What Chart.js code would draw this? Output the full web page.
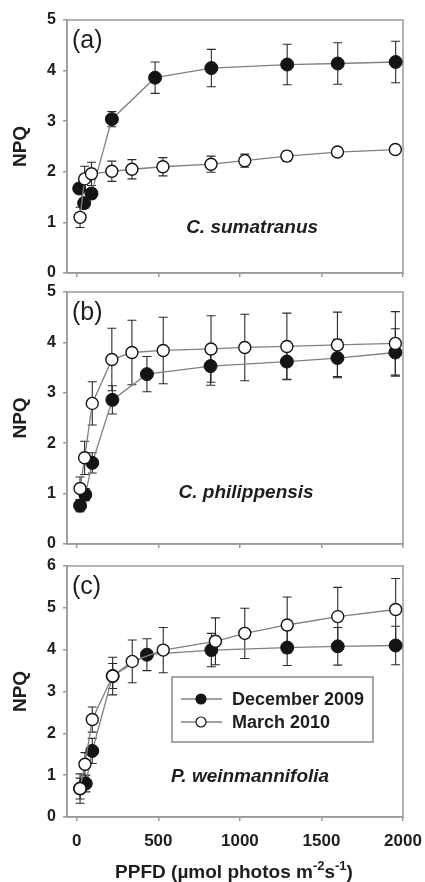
<!DOCTYPE html>
<html><head><meta charset="utf-8">
<script src="https://cdn.jsdelivr.net/npm/chart.js@4.4.1/dist/chart.umd.min.js"></script>
<style>
html,body{margin:0;padding:0;background:#fff;width:425px;height:882px;overflow:hidden}
canvas{position:absolute;left:0;top:0}
</style></head><body>
<canvas id="ca" width="425" height="882"></canvas>
<canvas id="cb" width="425" height="882"></canvas>
<canvas id="cc" width="425" height="882"></canvas>
<script>
// ---- data ----
const seriesLabels = ['December 2009', 'March 2010'];
const xTicks = [0, 500, 1000, 1500, 2000];
const yTicksA = [0, 1, 2, 3, 4, 5];
const yTicksB = [0, 1, 2, 3, 4, 5];
const yTicksC = [0, 1, 2, 3, 4, 5, 6];
const panelTags = ['(a)', '(b)', '(c)'];
const speciesNames = ['C. sumatranus', 'C. philippensis', 'P. weinmannifolia'];

const decXa = [15, 45, 90, 215, 480, 825, 1290, 1600, 1955];
const decYa = [1.67, 1.38, 1.57, 3.04, 3.86, 4.05, 4.12, 4.14, 4.17];
const decEa = [0.1, 0.1, 0.1, 0.15, 0.31, 0.37, 0.40, 0.41, 0.41];
const marXa = [20, 48, 90, 215, 338, 528, 823, 1030, 1288, 1598, 1953];
const marYa = [1.1, 1.86, 1.96, 2.01, 2.05, 2.1, 2.15, 2.22, 2.31, 2.39, 2.44];
const marEa = [0.2, 0.25, 0.23, 0.2, 0.19, 0.18, 0.16, 0.13, 0.1, 0.05, 0.03];

const decXb = [20, 52, 95, 218, 430, 820, 1288, 1598, 1953];
const decYb = [0.76, 0.98, 1.61, 2.86, 3.37, 3.53, 3.62, 3.69, 3.80];
const decEb = [0.12, 0.12, 0.2, 0.28, 0.35, 0.38, 0.35, 0.37, 0.47];
const marXb = [20, 48, 95, 215, 338, 530, 823, 1030, 1288, 1598, 1953];
const marYb = [1.1, 1.71, 2.79, 3.66, 3.80, 3.84, 3.87, 3.90, 3.92, 3.95, 3.98];
const marEb = [0.23, 0.33, 0.43, 0.62, 0.64, 0.66, 0.66, 0.66, 0.66, 0.65, 0.63];

const decXc = [20, 55, 95, 220, 430, 825, 1290, 1600, 1955];
const decYc = [0.68, 0.8, 1.58, 3.37, 3.88, 3.99, 4.05, 4.08, 4.1];
const decEc = [0.25, 0.2, 0.3, 0.3, 0.38, 0.4, 0.43, 0.45, 0.46];
const marXc = [20, 50, 95, 220, 340, 530, 850, 1030, 1290, 1600, 1955];
const marYc = [0.68, 1.26, 2.33, 3.37, 3.72, 3.99, 4.2, 4.39, 4.59, 4.79, 4.96];
const marEc = [0.35, 0.28, 0.3, 0.45, 0.51, 0.54, 0.56, 0.6, 0.67, 0.7, 0.74];

// ---- styles ----
const FONT = '"Liberation Sans", Arial, sans-serif';
const axisGrey = '#9a9a9a';
const lineGrey = '#808080';
const textColor = '#1e1e1e';
const markColor = '#141414';

const toXY = (xs, ys) => xs.map((x, i) => ({x: x, y: ys[i]}));

const errPlugin = {
  id: 'errbars',
  beforeDatasetsDraw(chart) {
    const ctx = chart.ctx, ys = chart.scales.y;
    chart.data.datasets.forEach((ds, i) => {
      const meta = chart.getDatasetMeta(i);
      meta.data.forEach((pt, j) => {
        const v = ds.data[j].y, e = ds.err[j];
        const x = pt.x, y1 = ys.getPixelForValue(v + e), y2 = ys.getPixelForValue(v - e);
        ctx.save();
        ctx.strokeStyle = '#2a2a2a'; ctx.lineWidth = 1.1;
        ctx.beginPath();
        ctx.moveTo(x, y1); ctx.lineTo(x, y2);
        ctx.moveTo(x - 4.5, y1); ctx.lineTo(x + 4.5, y1);
        ctx.moveTo(x - 4.5, y2); ctx.lineTo(x + 4.5, y2);
        ctx.stroke();
        ctx.restore();
      });
    });
  }
};

const framePlugin = {
  id: 'frame',
  beforeDatasetsDraw(chart) {
    const {ctx, chartArea: a} = chart;
    ctx.save();
    ctx.strokeStyle = axisGrey; ctx.lineWidth = 1.5;
    ctx.strokeRect(a.left, a.top, a.right - a.left, a.bottom - a.top);
    ctx.restore();
  }
};

const textPlugin = {
  id: 'texts',
  afterDraw(chart, args, o) {
    const {ctx, chartArea: a} = chart;
    ctx.save();
    ctx.fillStyle = textColor;
    ctx.textBaseline = 'middle';
    ctx.textAlign = 'left';
    ctx.font = '25px ' + FONT;
    ctx.fillText(o.tag, a.left + 5, a.top + 21);
    ctx.textAlign = 'center';
    ctx.font = 'italic bold 19px ' + FONT;
    ctx.fillText(o.species, a.left + o.sx * (a.right - a.left), a.top + o.sy * (a.bottom - a.top));
    if (o.legend) {
      const bx = 172, by = 677, bw = 201, bh = 65;
      ctx.strokeStyle = '#8a8a8a'; ctx.lineWidth = 1.5;
      ctx.fillStyle = '#fff';
      ctx.fillRect(bx, by, bw, bh);
      ctx.strokeRect(bx, by, bw, bh);
      const rows = [699, 722];
      chart.data.datasets.forEach((ds, i) => {
        const y = rows[i];
        ctx.strokeStyle = '#444'; ctx.lineWidth = 1.2;
        ctx.beginPath(); ctx.moveTo(181, y); ctx.lineTo(222, y); ctx.stroke();
        ctx.beginPath(); ctx.arc(201, y, 5, 0, Math.PI * 2);
        ctx.fillStyle = ds.pointBackgroundColor; ctx.fill();
        ctx.strokeStyle = markColor; ctx.lineWidth = 1.2; ctx.stroke();
        ctx.fillStyle = textColor; ctx.textAlign = 'left';
        ctx.font = 'bold 18px ' + FONT;
        ctx.fillText(ds.label, 232, y + 1);
      });
    }
    if (o.xtitle) {
      const parts = [['PPFD (\u00b5mol photos m', 0], ['-2', 1], ['s', 0], ['-1', 1], [')', 0]];
      const big = 'bold 19px ' + FONT, small = 'bold 13px ' + FONT;
      let w = 0;
      parts.forEach(p => { ctx.font = p[1] ? small : big; w += ctx.measureText(p[0]).width; });
      let x = 234 - w / 2;
      const y = 873;
      ctx.textAlign = 'left';
      ctx.fillStyle = textColor;
      parts.forEach(p => {
        ctx.font = p[1] ? small : big;
        ctx.fillText(p[0], x, p[1] ? y - 7 : y);
        x += ctx.measureText(p[0]).width;
      });
    }
    ctx.restore();
  }
};

function makePanel(id, p) {
  const XH = p.showX ? 40 : 10;
  return new Chart(document.getElementById(id), {
    type: 'line',
    data: {
      datasets: [
        { label: seriesLabels[0], data: toXY(p.decX, p.decY), err: p.decE,
          borderColor: lineGrey, borderWidth: 1.3, pointRadius: 6.5,
          pointBackgroundColor: markColor, pointBorderColor: markColor, pointBorderWidth: 1,
          fill: false, tension: 0, order: 1 },
        { label: seriesLabels[1], data: toXY(p.marX, p.marY), err: p.marE,
          borderColor: lineGrey, borderWidth: 1.3, pointRadius: 6,
          pointBackgroundColor: '#ffffff', pointBorderColor: markColor, pointBorderWidth: 1.4,
          fill: false, tension: 0, order: 0 }
      ]
    },
    options: {
      responsive: false, animation: false, events: [], devicePixelRatio: 1,
      layout: { padding: { left: 0, right: 425 - 403, top: p.top, bottom: 882 - p.bottom - XH } },
      plugins: {
        legend: { display: false }, tooltip: { enabled: false },
        texts: { tag: p.tag, species: p.species, sx: p.sx, sy: p.sy, legend: p.legend, xtitle: p.showX }
      },
      scales: {
        x: {
          type: 'linear', min: -60, max: 2000,
          afterBuildTicks: s => { s.ticks = xTicks.map(v => ({ value: v })); },
          afterFit: s => { s.height = XH; s.paddingLeft = 0; s.paddingRight = 0; },
          grid: { drawOnChartArea: false, drawTicks: true, tickLength: 4, color: axisGrey, lineWidth: 1.5 },
          border: { color: axisGrey, width: 1.5 },
          ticks: { display: p.showX, color: textColor, font: { family: FONT, size: 17, weight: 'bold' }, padding: 10, maxRotation: 0,
                   callback: v => String(v) }
        },
        y: {
          min: 0, max: p.ymax,
          afterBuildTicks: s => { s.ticks = p.yTicks.map(v => ({ value: v })); },
          afterFit: s => { s.width = 67; s.paddingTop = 0; s.paddingBottom = 0; },
          grid: { drawOnChartArea: false, drawTicks: true, tickLength: 4, color: axisGrey, lineWidth: 1.5 },
          border: { color: axisGrey, width: 1.5 },
          ticks: { color: textColor, font: { family: FONT, size: 16, weight: 'bold' }, padding: 7, callback: v => String(v) },
          title: { display: true, text: 'NPQ', color: textColor, font: { family: FONT, size: 19, weight: 'bold' }, padding: { top: 9, bottom: 0 } }
        }
      }
    },
    plugins: [framePlugin, errPlugin, textPlugin]
  });
}

makePanel('ca', { top: 20, bottom: 273, ymax: 5, yTicks: yTicksA, showX: false, tag: panelTags[0], species: speciesNames[0], sx: 0.551, sy: 0.822, legend: false,
  decX: decXa, decY: decYa, decE: decEa, marX: marXa, marY: marYa, marE: marEa });
makePanel('cb', { top: 292, bottom: 544, ymax: 5, yTicks: yTicksB, showX: false, tag: panelTags[1], species: speciesNames[1], sx: 0.533, sy: 0.798, legend: false,
  decX: decXb, decY: decYb, decE: decEb, marX: marXb, marY: marYb, marE: marEb });
makePanel('cc', { top: 566, bottom: 817, ymax: 6, yTicks: yTicksC, showX: true, tag: panelTags[2], species: speciesNames[2], sx: 0.545, sy: 0.84, legend: true,
  decX: decXc, decY: decYc, decE: decEc, marX: marXc, marY: marYc, marE: marEc });
</script>
</body></html>
